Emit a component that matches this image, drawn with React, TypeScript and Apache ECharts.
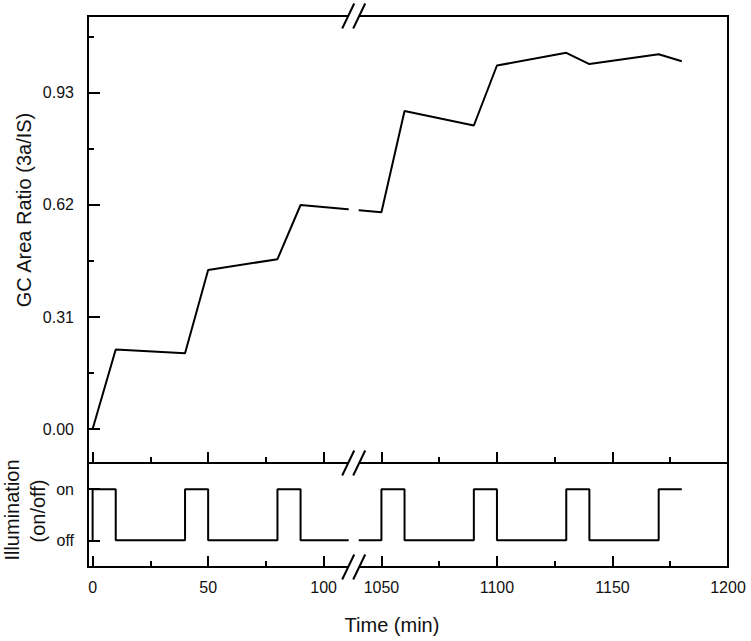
import React, { useEffect, useRef } from 'react';
import * as echarts from 'echarts';

// ---- data (real time in minutes) ----
const times = [0, 10, 40, 50, 80, 90, 1050, 1060, 1090, 1100, 1130, 1140, 1170, 1180];
const ratio = [0.0, 0.22, 0.21, 0.44, 0.47, 0.62, 0.60, 0.88, 0.84, 1.006, 1.041, 1.01, 1.037, 1.018];
const illumTimes = [0, 0, 10, 40, 50, 80, 90, 1050, 1060, 1090, 1100, 1130, 1140, 1170, 1180];
const illumStates = [0, 1, 0, 1, 0, 1, 0, 1, 0, 1, 0, 1, 0, 1, 1];
const xMajorTicks = [0, 50, 100, 1050, 1100, 1150, 1200];
const xMinorTicks = [25, 75, 1075, 1125, 1175];
const yMajorTicks = [0, 0.31, 0.62, 0.93];
const yMinorTicks = [0.155, 0.465, 0.775, 1.085];
const illumTicks = [0, 1];
const illumLabels = ['off', 'on'];

// axis break: 112.5 .. 1037.5 removed
const BREAK_AT = 112.5;
const GAP = 925;
const comp = (t: number) => (t > BREAK_AT ? t - GAP : t);
const uncomp = (v: number) => (v > BREAK_AT ? v + GAP : v);

const FONT = "'Liberation Sans', Arial, Helvetica, sans-serif";
const INK = '#000';
const TXT = '#111';

export default function App() {
  const ref = useRef<HTMLDivElement>(null);
  useEffect(() => {
    if (!ref.current) return;
    const chart = echarts.init(ref.current, undefined, { renderer: 'svg' });
    const tickStyle = { color: INK, width: 2 };
    const hiddenLine = { show: false, onZero: false };
    const xBase = { type: 'value', min: -2, max: 275, splitLine: { show: false }, axisLine: hiddenLine, position: 'bottom' };
    const option: any = {
      animation: false,
      grid: [
        { left: 88, width: 640, top: 16, height: 447, show: true, borderColor: INK, borderWidth: 2 },
        { left: 88, width: 640, top: 463, height: 104, show: true, borderColor: INK, borderWidth: 2 },
      ],
      xAxis: [
        { ...xBase, gridIndex: 0, axisTick: { inside: true, length: 11, customValues: xMajorTicks.map(comp), lineStyle: tickStyle }, axisLabel: { show: false } },
        { ...xBase, gridIndex: 0, axisTick: { inside: true, length: 6, customValues: xMinorTicks.map(comp), lineStyle: tickStyle }, axisLabel: { show: false } },
        {
          ...xBase, gridIndex: 1,
          axisTick: { inside: true, length: 11, customValues: xMajorTicks.map(comp), lineStyle: tickStyle },
          axisLabel: { show: true, customValues: xMajorTicks.map(comp), formatter: (v: number) => String(Math.round(uncomp(v))), margin: 12, fontSize: 16, color: TXT, fontFamily: FONT },
        },
        { ...xBase, gridIndex: 1, axisTick: { inside: true, length: 6, customValues: xMinorTicks.map(comp), lineStyle: tickStyle }, axisLabel: { show: false } },
      ],
      yAxis: [
        {
          type: 'value', gridIndex: 0, position: 'left', min: -0.094, max: 1.143, splitLine: { show: false }, axisLine: hiddenLine,
          axisTick: { inside: true, length: 12, customValues: yMajorTicks, lineStyle: tickStyle },
          axisLabel: { customValues: yMajorTicks, formatter: (v: number) => v.toFixed(2), margin: 14, fontSize: 16, color: TXT, fontFamily: FONT },
        },
        {
          type: 'value', gridIndex: 0, position: 'left', min: -0.094, max: 1.143, splitLine: { show: false }, axisLine: hiddenLine,
          axisTick: { inside: true, length: 6, customValues: yMinorTicks, lineStyle: tickStyle },
          axisLabel: { show: false },
        },
        {
          type: 'value', gridIndex: 1, position: 'left', min: -0.52, max: 1.51, splitLine: { show: false }, axisLine: hiddenLine,
          axisTick: { inside: true, length: 12, customValues: illumTicks, lineStyle: tickStyle },
          axisLabel: { customValues: illumTicks, formatter: (v: number) => illumLabels[Math.round(v)], margin: 14, fontSize: 16, color: TXT, fontFamily: FONT },
        },
      ],
      series: [
        {
          type: 'line', xAxisIndex: 0, yAxisIndex: 0, symbol: 'none', silent: true,
          data: times.map((t, i) => [comp(t), ratio[i]]),
          lineStyle: { color: INK, width: 2 },
        },
        {
          type: 'line', xAxisIndex: 2, yAxisIndex: 2, symbol: 'none', silent: true, step: 'end',
          data: illumTimes.map((t, i) => [comp(t), illumStates[i]]),
          lineStyle: { color: INK, width: 2 },
        },
      ],
    };
    chart.setOption(option);

    let bx = 353.7;
    const p = chart.convertToPixel({ gridIndex: 0 }, [113, 0]) as any;
    if (Array.isArray(p) && isFinite(p[0])) bx = p[0];
    const spineYs = [16, 463, 567];
    const slashes: any[] = [];
    spineYs.forEach((y0) => {
      [-5.5, 5.5].forEach((dx) => {
        slashes.push({
          type: 'line', z: 101,
          shape: { x1: bx + dx - 6, y1: y0 + 12.5, x2: bx + dx + 6, y2: y0 - 12.5 },
          style: { stroke: INK, lineWidth: 2 },
        });
      });
    });
    chart.setOption({
      graphic: [
        { type: 'rect', z: 100, shape: { x: bx - 5, y: 8, width: 10, height: 566 }, style: { fill: '#fff' } },
        ...slashes,
        { type: 'text', x: 24, y: 210, rotation: Math.PI / 2, z: 102, style: { text: 'GC Area Ratio (3a/IS)', fontSize: 20, fontFamily: FONT, fill: TXT, align: 'center', verticalAlign: 'middle' } },
        { type: 'text', x: 12, y: 510, rotation: Math.PI / 2, z: 102, style: { text: 'Illumination', fontSize: 20, fontFamily: FONT, fill: TXT, align: 'center', verticalAlign: 'middle' } },
        { type: 'text', x: 38, y: 511, rotation: Math.PI / 2, z: 102, style: { text: '(on/off)', fontSize: 20, fontFamily: FONT, fill: TXT, align: 'center', verticalAlign: 'middle' } },
        { type: 'text', x: 392, y: 625, z: 102, style: { text: 'Time (min)', fontSize: 20, fontFamily: FONT, fill: TXT, align: 'center', verticalAlign: 'middle' } },
      ],
    });
    return () => chart.dispose();
  }, []);
  return <div ref={ref} style={{ position: 'fixed', left: 0, top: 0, width: 751, height: 641, background: '#fff' }} />;
}
